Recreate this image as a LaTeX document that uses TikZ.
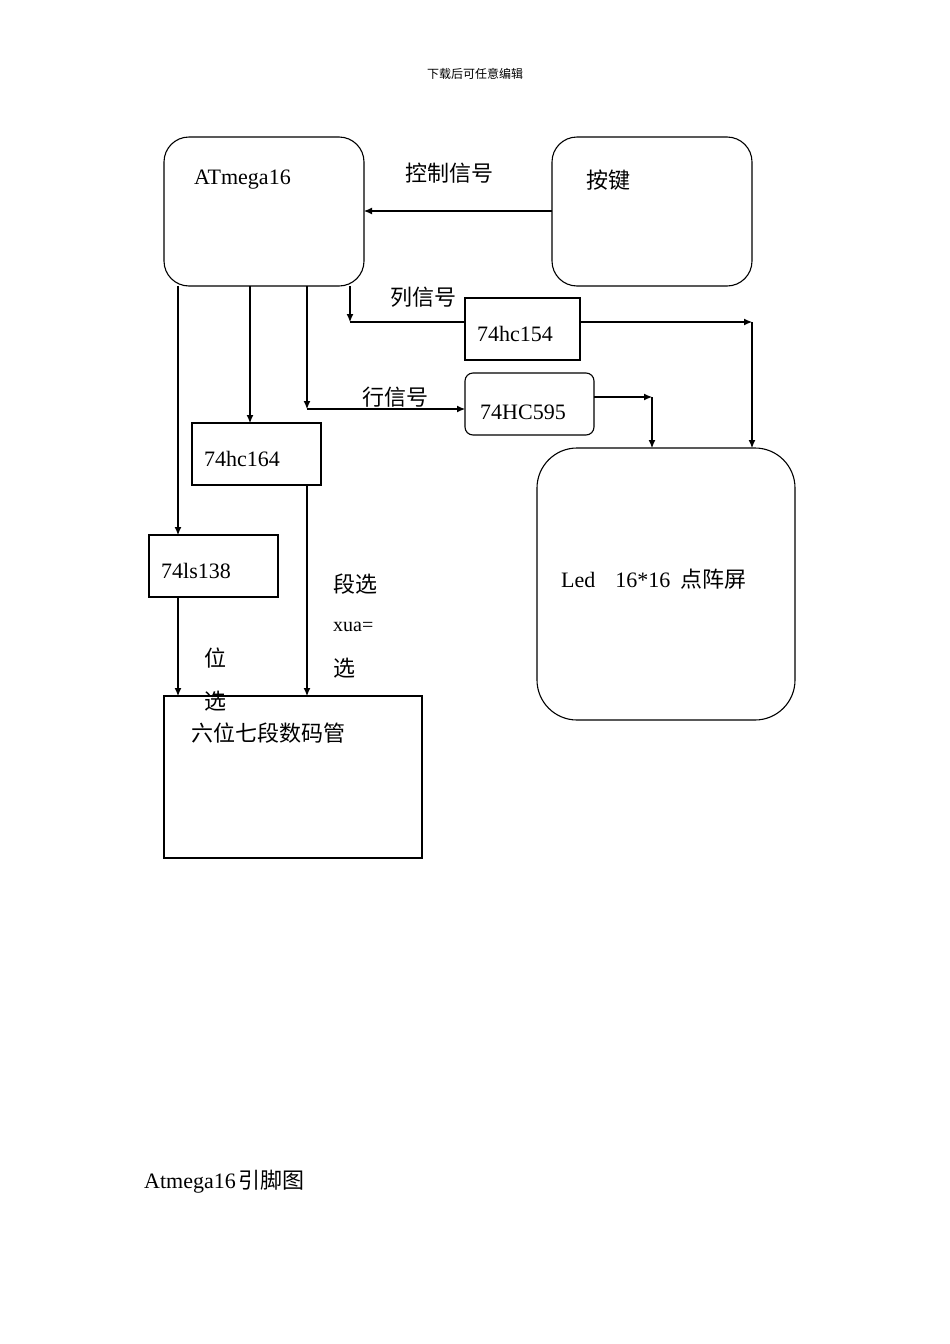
\documentclass[tikz,border=0pt]{standalone}
\usepackage{fontspec}
\setmainfont{Liberation Serif}
\newfontfamily\cjk{Noto Sans CJK SC}
\usetikzlibrary{arrows.meta}
\begin{document}
\begin{tikzpicture}[x=1pt,y=-1pt,
  box/.style={draw,line width=1.1pt},
  rbox/.style={draw,line width=1.1pt,rounded corners=25pt},
  arr/.style={-{Latex[length=8pt,width=7pt]},line width=1.1pt},
  ln/.style={line width=1.1pt},
  lat/.style={font=\fontsize{22}{24}\selectfont,anchor=west,inner sep=0},
  zh/.style={font=\cjk\fontsize{22}{24}\selectfont,anchor=west,inner sep=0}]
\useasboundingbox (0,0) rectangle (950,1344);
\node[font=\cjk\fontsize{12}{14}\selectfont] (hdr) at (475,74) {下载后可任意编辑};
\draw[rbox] (164,137) rectangle (364,286);
\node[lat] (atl) at (194,180) {ATmega16};
\draw[rbox] (552,137) rectangle (752,286);
\node[zh] (kl) at (586,180) {按键};
\draw[box] (465,298) rectangle (580,360);
\node[lat] (c154) at (477,334) {74hc154};
\draw[box,rounded corners=8pt] (465,373) rectangle (594,435);
\node[lat] (c595) at (480,412) {74HC595};
\draw[box] (192,423) rectangle (321,485);
\node[lat] (c164) at (204,459) {74hc164};
\draw[box] (149,535) rectangle (278,597);
\node[lat] (c138) at (161,571) {74ls138};
\draw[box] (164,696) rectangle (422,858);
\node[zh] (smg) at (191,733) {六位七段数码管};
\draw[box,rounded corners=40pt] (537,448) rectangle (795,720);
\node[lat] (led) at (561,579) {Led\hspace{20pt}16*16\hspace{10pt}{\cjk 点阵屏}};
\node[zh] (ctl) at (405,173) {控制信号};
\node[zh] (lie) at (390,297) {列信号};
\node[zh] (hang) at (362,397) {行信号};
\node[zh] (dx) at (333,584) {段选};
\node[lat,font=\fontsize{20}{22}\selectfont] (xua) at (333,627) {xua=};
\node[zh] (x2) at (333,668) {选};
\node[zh] (w1) at (204,658) {位};
\node[zh] (w2) at (204,701) {选};
\node[lat] (foot) at (144,1182) {Atmega16\hspace{3pt}{\cjk 引脚图}};
\draw[arr] (552,211) -- (364,211);
\draw[arr] (350,286) -- (350,322);
\draw[ln] (350,322) -- (465,322);
\draw[arr] (580,322) -- (752,322);
\draw[arr] (752,322) -- (752,448);
\draw[arr] (307,286) -- (307,409);
\draw[arr] (307,409) -- (465,409);
\draw[arr] (594,397) -- (652,397);
\draw[arr] (652,397) -- (652,448);
\draw[arr] (250,286) -- (250,423);
\draw[arr] (178,286) -- (178,535);
\draw[arr] (178,597) -- (178,696);
\draw[arr] (307,485) -- (307,696);
\end{tikzpicture}
\end{document}
